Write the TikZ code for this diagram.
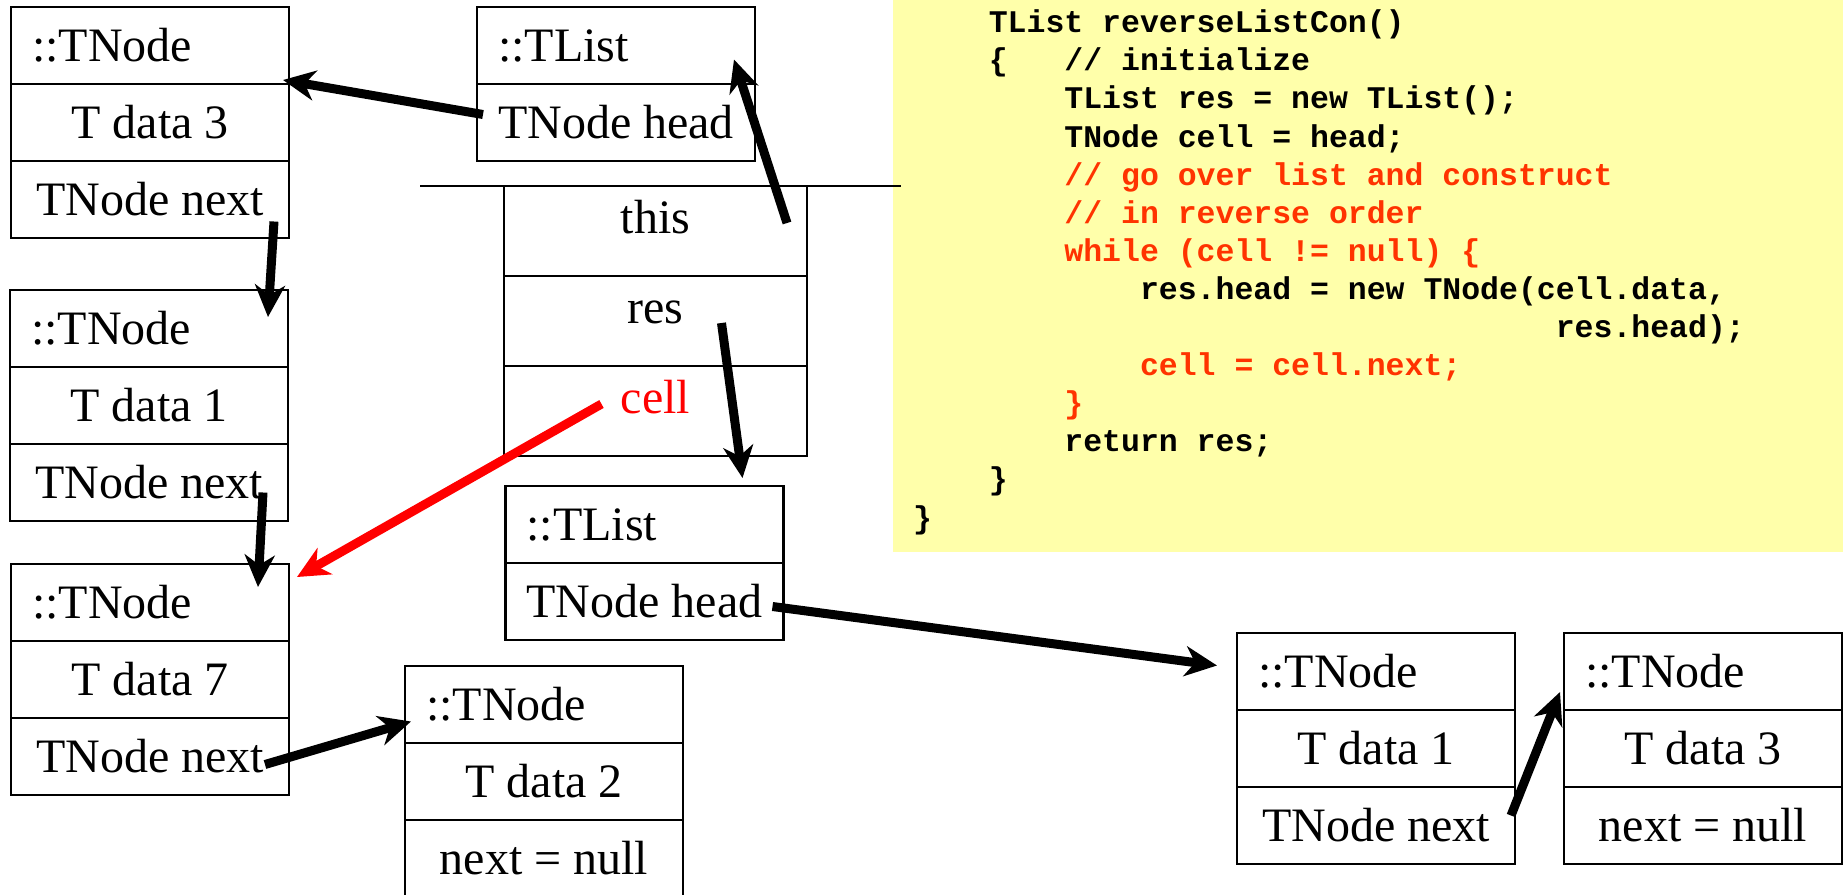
\documentclass[tikz,border=0pt]{standalone}
\usepackage{fontspec}
\setmainfont{Liberation Serif}
\newfontfamily\codefont{Liberation Mono}
\usetikzlibrary{arrows.meta}
\definecolor{codebg}{RGB}{255,255,170}
\definecolor{codered}{RGB}{255,51,0}

\begin{document}
\begin{tikzpicture}[x=1pt, y=-1pt,
        cellbody/.style={draw, line width=2.5pt, outer sep=0pt, inner sep=0pt, minimum width=278pt, minimum height=77pt, text height=32pt, text depth=0pt, font=\fontsize{48}{56}\selectfont},
        cellhead/.style={cellbody, text width=236pt, align=left},
        slot/.style={draw, line width=2.5pt, outer sep=0pt, inner sep=0pt, minimum width=303pt, minimum height=90pt, text height=32pt, text depth=28pt, font=\fontsize{48}{56}\selectfont},
        ptr/.style={line width=9pt, -{Stealth[length=32pt, width=30pt, inset=10pt]}},
        codeline/.style={anchor=base west, inner sep=0pt, font=\codefont\bfseries\fontsize{31.5}{38}\selectfont}]
        \useasboundingbox (0, 0) rectangle (1843, 894);
        \fill[codebg] (893, 0) rectangle (1843, 552);
        \node[codeline] (k1) at (988.6, 32.7) {TList reverseListCon()};
        \node[codeline] (k2) at (988.6, 70.8) {\{\ \ \ // initialize};
        \node[codeline] (k3) at (1064.2, 108.9) {TList res = new TList();};
        \node[codeline] (k4) at (1064.2, 147) {TNode cell = head;};
        \node[codeline, text=codered] (k5) at (1064.2, 185.1) {// go over list and construct};
        \node[codeline, text=codered] (k6) at (1064.2, 223.2) {// in reverse order};
        \node[codeline, text=codered] (k7) at (1064.2, 261.3) {while (cell != null) \{};
        \node[codeline] (k8) at (1139.8, 299.4) {res.head = new TNode(cell.data,};
        \node[codeline] (k9) at (1555.6, 337.5) {res.head);};
        \node[codeline, text=codered] (k10) at (1139.8, 375.6) {cell = cell.next;};
        \node[codeline, text=codered] (k11) at (1064.2, 413.7) {\}};
        \node[codeline] (k12) at (1064.2, 451.8) {return res;};
        \node[codeline] (k13) at (988.6, 489.9) {\}};
        \node[codeline] (k14) at (913, 528) {\}};
        \node[cellhead] (a1) at (150, 45.5) {::TNode};
        \node[cellbody] (a2) at (150, 122.5) {T data 3};
        \node[cellbody] (a3) at (150, 199.5) {TNode next};
        \node[cellhead] (b1) at (149, 328.5) {::TNode};
        \node[cellbody] (b2) at (149, 405.5) {T data 1};
        \node[cellbody] (b3) at (149, 482.5) {TNode next};
        \node[cellhead] (c1) at (150, 602.5) {::TNode};
        \node[cellbody] (c2) at (150, 679.5) {T data 7};
        \node[cellbody] (c3) at (150, 756.5) {TNode next};
        \node[cellhead] (d1) at (544, 704.5) {::TNode};
        \node[cellbody] (d2) at (544, 781.5) {T data 2};
        \node[cellbody] (d3) at (544, 858.5) {next = null};
        \node[cellhead] (l1) at (616, 45.5) {::TList};
        \node[cellbody] (l2) at (616, 122.5) {TNode head};
        \node[slot] (s1) at (655.5, 231) {this};
        \node[slot] (s2) at (655.5, 321) {res};
        \node[slot, text=red] (s3) at (655.5, 411) {cell};
        \draw[line width=2.5pt] ([xshift=-84pt]s1.north west) -- ([xshift=94pt]s1.north east);
        \node[cellhead] (m1) at (644.5, 524.5) {::TList};
        \node[cellbody] (m2) at (644.5, 601.5) {TNode head};
        \node[cellhead] (e1) at (1376, 671.5) {::TNode};
        \node[cellbody] (e2) at (1376, 748.5) {T data 1};
        \node[cellbody] (e3) at (1376, 825.5) {TNode next};
        \node[cellhead] (f1) at (1703, 671.5) {::TNode};
        \node[cellbody] (f2) at (1703, 748.5) {T data 3};
        \node[cellbody] (f3) at (1703, 825.5) {next = null};
        \draw[ptr] ([xshift=6pt, yshift=8pt]l2.west) -- ([xshift=-6pt, yshift=4pt]a1.south east);
        \draw[ptr] ([xshift=-20pt, yshift=8pt]s1.east) -- ([xshift=-21pt, yshift=-14pt]l1.east);
        \draw[ptr] ([xshift=-15pt, yshift=-22pt]a3.east) -- ([xshift=-20pt, yshift=-27pt]b1.north east);
        \draw[ptr] ([xshift=-25pt, yshift=-10pt]b3.east) -- ([xshift=-31pt, yshift=-23pt]c1.north east);
        \draw[ptr, red] ([xshift=-54pt, yshift=7pt]s3.center) -- ([xshift=8pt, yshift=-13pt]c1.north east);
        \draw[ptr] ([xshift=66pt, yshift=-2pt]s2.center) -- ([xshift=98pt, yshift=8pt]m1.north);
        \draw[ptr] ([xshift=-24pt, yshift=-8pt]c3.east) -- ([xshift=6pt, yshift=-17pt]d1.west);
        \draw[ptr] ([xshift=-11pt, yshift=-5pt]m2.east) -- ([xshift=-20pt, yshift=6pt]e1.west);
        \draw[ptr] ([xshift=-4pt, yshift=10pt]e3.east) -- ([xshift=-4pt, yshift=18pt]f1.south west);
    \end{tikzpicture}
\end{document}
